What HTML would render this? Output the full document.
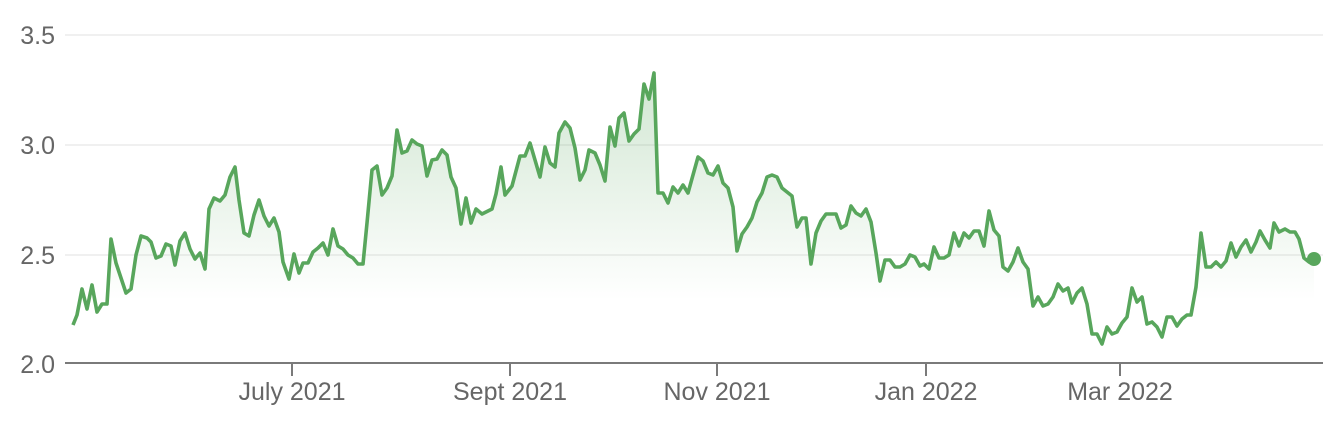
<!DOCTYPE html>
<html><head><style>
html,body{margin:0;padding:0;background:#fff;}
svg{display:block;}
text{font-family:"Liberation Sans",Arial,sans-serif;fill:#666;}
</style></head><body>
<svg width="1342" height="428" viewBox="0 0 1342 428">
<defs>
<linearGradient id="g" gradientUnits="userSpaceOnUse" x1="0" y1="70" x2="0" y2="300">
<stop offset="0" stop-color="#58a65c" stop-opacity="0.28"/>
<stop offset="1" stop-color="#58a65c" stop-opacity="0"/>
</linearGradient>
</defs>
<line x1="65" y1="35" x2="1323" y2="35" stroke="#f0f0f0" stroke-width="2"/>
<line x1="65" y1="145" x2="1323" y2="145" stroke="#f0f0f0" stroke-width="2"/>
<line x1="65" y1="255" x2="1323" y2="255" stroke="#f0f0f0" stroke-width="2"/>
<g font-size="25" text-anchor="end">
<text x="55" y="44">3.5</text>
<text x="55" y="154">3.0</text>
<text x="55" y="264">2.5</text>
<text x="55" y="373">2.0</text>
</g>
<g font-size="25" text-anchor="middle">
<text x="292" y="400">July 2021</text>
<text x="510" y="400">Sept 2021</text>
<text x="717" y="400">Nov 2021</text>
<text x="926" y="400">Jan 2022</text>
<text x="1120" y="400">Mar 2022</text>
</g>
<polygon fill="url(#g)" points="73,363 73,325 77,315 82,289 87,309 92,285 97,312 102,304 107,304 111,239 116,263 126,293 131,289 136,255 141,236 147,238 151,242 156,258 161,256 166,244 171,246 175,265 180,241 185,233 190,249 195,259 200,253 205,269 209,209 214,198 220,201 225,195 230,177 235,167 239,200 244,233 249,236 254,215 259,200 264,216 269,226 274,218 279,232 283,262 289,279 294,254 299,273 303,263 308,263 313,252 318,248 323,243 328,255 333,229 338,246 343,249 348,255 353,258 358,264 363,264 367,223 372,170 377,166 382,195 387,188 392,176 397,130 402,153 407,151 412,140 417,144 422,146 427,176 432,160 437,159 442,150 447,155 451,177 456,188 461,224 466,198 471,223 476,209 482,214 492,209 496,194 501,167 505,195 512,186 520,156 525,156 530,143 540,177 545,147 550,163 555,167 559,133 565,122 570,128 575,148 580,180 585,170 589,150 595,153 600,165 605,181 610,127 615,146 619,118 624,113 629,141 634,134 639,129 644,84 649,99 654,73 658,193 663,193 668,203 673,187 678,193 683,185 688,193 693,175 698,157 703,161 708,173 713,175 718,166 723,183 728,188 733,207 737,251 742,234 747,227 752,218 757,202 762,193 767,177 772,175 777,177 782,188 787,192 792,196 797,227 802,218 806,218 811,264 816,233 821,221 826,214 836,214 841,228 846,225 851,206 856,213 861,216 866,209 871,222 876,253 880,281 885,260 890,260 895,267 900,267 905,264 910,255 915,257 920,266 924,264 929,269 934,247 939,258 944,258 949,255 954,233 959,246 964,233 969,238 974,231 979,231 984,246 989,211 994,230 999,236 1003,267 1008,271 1013,262 1018,248 1023,262 1028,269 1033,306 1038,297 1043,306 1048,304 1053,297 1058,284 1063,291 1068,288 1072,303 1077,293 1082,288 1087,304 1092,334 1097,334 1102,344 1107,327 1112,334 1117,332 1122,323 1127,317 1132,288 1137,302 1142,297 1147,324 1152,322 1157,327 1162,337 1167,317 1172,317 1177,326 1182,319 1187,315 1191,315 1196,287 1201,233 1206,267 1211,267 1216,262 1221,267 1226,261 1231,243 1236,257 1241,247 1246,240 1251,252 1256,242 1260,231 1265,240 1270,248 1274,223 1279,232 1285,229 1290,232 1295,232 1299,239 1304,258 1309,262 1314,259 1314,363"/>
<polyline fill="none" stroke="#58a65c" stroke-width="3.6" stroke-linejoin="round" points="73,325 77,315 82,289 87,309 92,285 97,312 102,304 107,304 111,239 116,263 126,293 131,289 136,255 141,236 147,238 151,242 156,258 161,256 166,244 171,246 175,265 180,241 185,233 190,249 195,259 200,253 205,269 209,209 214,198 220,201 225,195 230,177 235,167 239,200 244,233 249,236 254,215 259,200 264,216 269,226 274,218 279,232 283,262 289,279 294,254 299,273 303,263 308,263 313,252 318,248 323,243 328,255 333,229 338,246 343,249 348,255 353,258 358,264 363,264 367,223 372,170 377,166 382,195 387,188 392,176 397,130 402,153 407,151 412,140 417,144 422,146 427,176 432,160 437,159 442,150 447,155 451,177 456,188 461,224 466,198 471,223 476,209 482,214 492,209 496,194 501,167 505,195 512,186 520,156 525,156 530,143 540,177 545,147 550,163 555,167 559,133 565,122 570,128 575,148 580,180 585,170 589,150 595,153 600,165 605,181 610,127 615,146 619,118 624,113 629,141 634,134 639,129 644,84 649,99 654,73 658,193 663,193 668,203 673,187 678,193 683,185 688,193 693,175 698,157 703,161 708,173 713,175 718,166 723,183 728,188 733,207 737,251 742,234 747,227 752,218 757,202 762,193 767,177 772,175 777,177 782,188 787,192 792,196 797,227 802,218 806,218 811,264 816,233 821,221 826,214 836,214 841,228 846,225 851,206 856,213 861,216 866,209 871,222 876,253 880,281 885,260 890,260 895,267 900,267 905,264 910,255 915,257 920,266 924,264 929,269 934,247 939,258 944,258 949,255 954,233 959,246 964,233 969,238 974,231 979,231 984,246 989,211 994,230 999,236 1003,267 1008,271 1013,262 1018,248 1023,262 1028,269 1033,306 1038,297 1043,306 1048,304 1053,297 1058,284 1063,291 1068,288 1072,303 1077,293 1082,288 1087,304 1092,334 1097,334 1102,344 1107,327 1112,334 1117,332 1122,323 1127,317 1132,288 1137,302 1142,297 1147,324 1152,322 1157,327 1162,337 1167,317 1172,317 1177,326 1182,319 1187,315 1191,315 1196,287 1201,233 1206,267 1211,267 1216,262 1221,267 1226,261 1231,243 1236,257 1241,247 1246,240 1251,252 1256,242 1260,231 1265,240 1270,248 1274,223 1279,232 1285,229 1290,232 1295,232 1299,239 1304,258 1309,262 1314,259"/>
<circle cx="1314" cy="259" r="7" fill="#58a65c"/>
<line x1="65" y1="363" x2="1323" y2="363" stroke="#7a7a7a" stroke-width="2"/>
<g stroke="#7a7a7a" stroke-width="2">
<line x1="292" y1="363" x2="292" y2="376"/>
<line x1="510" y1="363" x2="510" y2="376"/>
<line x1="717" y1="363" x2="717" y2="376"/>
<line x1="926" y1="363" x2="926" y2="376"/>
<line x1="1120" y1="363" x2="1120" y2="376"/>
</g>
</svg>
</body></html>
